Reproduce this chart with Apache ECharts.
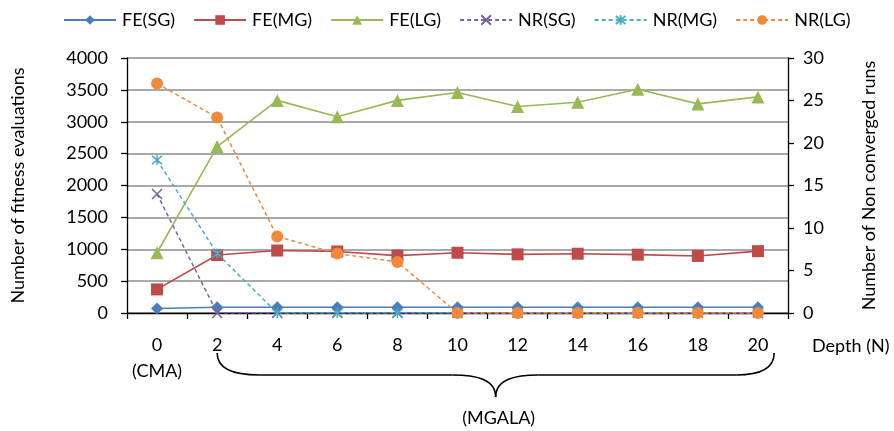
<!DOCTYPE html>
<html><head><meta charset="utf-8">
<script src="https://cdn.jsdelivr.net/npm/echarts@6/dist/echarts.min.js"></script>
<style>html,body{margin:0;padding:0;background:#fff}#c{width:894px;height:431px}</style>
</head><body><div id="c"></div>
<script>
var depths = ['0','2','4','6','8','10','12','14','16','18','20'];
var feSG = [70, 90, 90, 90, 90, 90, 90, 90, 90, 90, 90];
var feMG = [370, 910, 980, 965, 900, 945, 920, 930, 915, 895, 970];
var feLG = [945, 2610, 3335, 3080, 3335, 3460, 3240, 3305, 3510, 3280, 3390];
var nrSG = [14, 0, 0, 0, 0, 0, 0, 0, 0, 0, 0];
var nrMG = [18, 7, 0, 0, 0, 0, 0, 0, 0, 0, 0];
var nrLG = [27, 23, 9, 7, 6, 0, 0, 0, 0, 0, 0];
var leftTicks = {min: 0, max: 4000, interval: 500};
var rightTicks = {min: 0, max: 30, interval: 5};

var FONT = 'Lato';
var chart = echarts.init(document.getElementById('c'), null, {renderer: 'canvas'});
var xMark = 'path://M0,0L10,10M10,0L0,10';
var starMark = 'path://M0,0L10,10M10,0L0,10M5,-1L5,11';

function feSeries(name, data, color, symbol, size) {
  return {name: name, type: 'line', yAxisIndex: 0, data: data, symbol: symbol, symbolSize: size,
    showAllSymbol: true, lineStyle: {color: color, width: 1.6}, itemStyle: {color: color}, z: 2};
}
function nrSeries(name, data, color, symbol, size, stroke) {
  var s = {name: name, type: 'line', yAxisIndex: 1, data: data, symbol: symbol, symbolSize: size,
    showAllSymbol: true, lineStyle: {color: color, width: 1.5, type: [4, 3]}, z: 3};
  if (stroke) s.itemStyle = {color: 'none', borderColor: color, borderWidth: 1.5};
  else s.itemStyle = {color: color};
  return s;
}

var option = {
  animation: false,
  textStyle: {fontFamily: FONT},
  legend: {
    left: 58, top: 6, itemWidth: 52, itemHeight: 12, itemGap: 18,
    textStyle: {fontFamily: FONT, fontSize: 18, color: '#000', padding: [0, 0, 0, 1]},
    data: ['FE(SG)', 'FE(MG)', 'FE(LG)', 'NR(SG)', 'NR(MG)', 'NR(LG)']
  },
  grid: {left: 127, right: 106, top: 58, bottom: 118, containLabel: false},
  xAxis: {
    type: 'category', data: depths, boundaryGap: true,
    axisLine: {lineStyle: {color: '#000', width: 1.3}},
    axisTick: {show: true, length: 6, interval: 0, alignWithLabel: false, lineStyle: {color: '#000', width: 1.3}},
    axisLabel: {color: '#000', fontFamily: FONT, fontSize: 18, margin: 19, lineHeight: 26, interval: 0,
      formatter: function (v, i) { return i === 0 ? v + '\n(CMA)' : v; }},
    name: 'Depth (N)', nameLocation: 'end', nameGap: 24,
    nameTextStyle: {color: '#000', fontFamily: FONT, fontSize: 18, verticalAlign: 'top', align: 'left', padding: [24, 0, 0, 0]}
  },
  yAxis: [{
    type: 'value', min: leftTicks.min, max: leftTicks.max, interval: leftTicks.interval,
    axisLine: {show: true, lineStyle: {color: '#000', width: 1.3}},
    axisTick: {show: true, length: 6, lineStyle: {color: '#000', width: 1.3}},
    axisLabel: {color: '#000', fontFamily: FONT, fontSize: 18, margin: 19, formatter: function (v) { return String(v); }},
    splitLine: {show: true, lineStyle: {color: '#8c8c8c', width: 1.5}},
    name: 'Number of fitness evaluations', nameLocation: 'middle', nameGap: 100, nameRotate: 90,
    nameTextStyle: {color: '#000', fontFamily: FONT, fontSize: 18}
  }, {
    type: 'value', min: rightTicks.min, max: rightTicks.max, interval: rightTicks.interval, position: 'right',
    axisLine: {show: true, lineStyle: {color: '#000', width: 1.3}},
    axisTick: {show: true, length: 6, lineStyle: {color: '#000', width: 1.3}},
    axisLabel: {color: '#000', fontFamily: FONT, fontSize: 18, margin: 15, formatter: function (v) { return String(v); }},
    splitLine: {show: false},
    name: 'Number of Non converged runs', nameLocation: 'middle', nameGap: 72, nameRotate: 90,
    nameTextStyle: {color: '#000', fontFamily: FONT, fontSize: 18}
  }],
  series: [
    feSeries('FE(SG)', feSG, '#4A7EBB', 'diamond', 12),
    feSeries('FE(MG)', feMG, '#BE4B48', 'rect', 12),
    feSeries('FE(LG)', feLG, '#98B954', 'triangle', 13),
    nrSeries('NR(SG)', nrSG, '#7D60A0', xMark, 10, true),
    nrSeries('NR(MG)', nrMG, '#4BACC6', starMark, 10, true),
    nrSeries('NR(LG)', nrLG, '#F08A3A', 'circle', 12, false)
  ]
};
chart.setOption(option);

// brace annotation under categories 2..20
var x2 = chart.convertToPixel({xAxisIndex: 0}, '2');
var x20 = chart.convertToPixel({xAxisIndex: 0}, '20');
var band = (x20 - x2) / 9;
var L = x2, R = x20 + band * 0.27, M = (L + R) / 2;
var yTop = 353, yMid = 375, yTip = 397;
var st = {stroke: '#000', lineWidth: 1.6, fill: 'none'};
function bz(x1, y1, c1x, c1y, c2x, c2y, x2_, y2_) {
  return {type: 'bezierCurve', shape: {x1: x1, y1: y1, cpx1: c1x, cpy1: c1y, cpx2: c2x, cpy2: c2y, x2: x2_, y2: y2_}, style: st};
}
function ln(x1, y1, x2_, y2_) {
  return {type: 'line', shape: {x1: x1, y1: y1, x2: x2_, y2: y2_}, style: st};
}
chart.setOption({
  graphic: [
    bz(L, yTop, L, yMid - 4, L + 20, yMid, L + 42, yMid),
    ln(L + 42, yMid, M - 43, yMid),
    bz(M - 43, yMid, M - 20, yMid, M, yMid + 4, M, yTip),
    bz(M, yTip, M, yMid + 4, M + 20, yMid, M + 43, yMid),
    ln(M + 43, yMid, R - 38, yMid),
    bz(R - 38, yMid, R - 18, yMid, R, yMid - 4, R, yTop),
    {type: 'text', x: M + 3, y: 418, style: {text: '(MGALA)', fontFamily: FONT, fontSize: 18, fill: '#000', align: 'center', verticalAlign: 'middle'}}
  ]
});
</script></body></html>
